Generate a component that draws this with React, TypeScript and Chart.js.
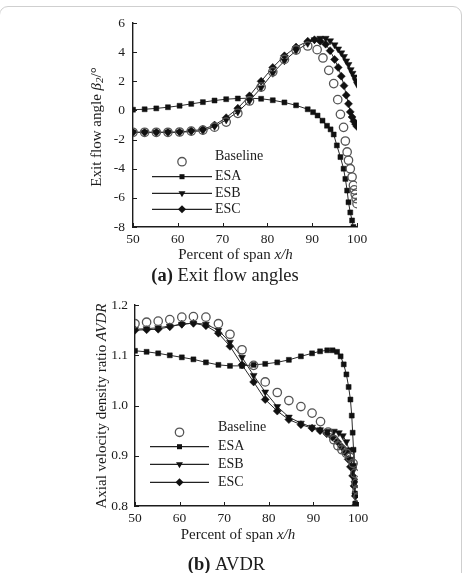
import React, { useEffect, useRef } from 'react';
import { Chart, registerables } from 'chart.js';
Chart.register(...registerables);

const FONT = "'Liberation Serif', 'Times New Roman', serif";
const INK = '#1c1c1c';

// ---------- (a) Exit flow angles ----------
const angleXTicks = [50, 60, 70, 80, 90, 100];
const angleYTicks = [-8, -6, -4, -2, 0, 2, 4, 6];

const angleBaselineX = [50, 52.6, 55.2, 57.8, 60.4, 63, 65.6, 68.2, 70.8, 73.4, 76, 78.6, 81.2, 83.8, 86.4, 89, 91.1, 92.4, 93.7, 94.8, 95.7, 96.3, 97.0, 97.4, 97.8, 98.1, 98.5, 98.9, 99.2, 99.4, 99.6, 99.8, 100];
const angleBaselineY = [-1.5, -1.5, -1.5, -1.5, -1.48, -1.42, -1.35, -1.15, -0.8, -0.2, 0.65, 1.6, 2.65, 3.5, 4.15, 4.42, 4.17, 3.6, 2.75, 1.84, 0.74, -0.27, -1.16, -2.1, -2.85, -3.42, -4.0, -4.57, -5.14, -5.45, -5.75, -6.05, -6.4];

const angleEsaX = [50, 52.6, 55.2, 57.8, 60.4, 63, 65.6, 68.2, 70.8, 73.4, 76, 78.6, 81.2, 83.8, 86.4, 89, 90.2, 91.2, 92.3, 93.3, 94.1, 94.8, 95.5, 96.3, 97.0, 97.4, 97.8, 98.1, 98.5, 98.9, 99.2];
const angleEsaY = [0.05, 0.08, 0.14, 0.22, 0.32, 0.45, 0.57, 0.68, 0.77, 0.82, 0.84, 0.8, 0.7, 0.55, 0.35, 0.08, -0.12, -0.35, -0.7, -1.05, -1.3, -1.65, -2.4, -3.2, -4.0, -4.7, -5.5, -6.3, -7.0, -7.55, -8.0];

const angleEsbX = [50, 52.6, 55.2, 57.8, 60.4, 63, 65.6, 68.2, 70.8, 73.4, 76, 78.6, 81.2, 83.8, 86.4, 89, 90.5, 91.8, 93, 94, 95, 95.8, 96.5, 97.1, 97.6, 98.1, 98.6, 99.0, 99.4, 99.7, 100];
const angleEsbY = [-1.5, -1.5, -1.5, -1.5, -1.5, -1.45, -1.4, -1.1, -0.65, -0.1, 0.65, 1.55, 2.55, 3.4, 4.1, 4.6, 4.85, 4.95, 4.95, 4.78, 4.5, 4.22, 3.95, 3.7, 3.4, 3.15, 2.8, 2.55, 2.3, 2.05, 1.8];

const angleEscX = [50, 52.6, 55.2, 57.8, 60.4, 63, 65.6, 68.2, 70.8, 73.4, 76, 78.6, 81.2, 83.8, 86.4, 89, 90.5, 91.8, 93, 94, 95, 95.8, 96.5, 97.1, 97.6, 98.1, 98.5, 98.9, 99.3, 99.7, 100];
const angleEscY = [-1.5, -1.5, -1.5, -1.5, -1.48, -1.4, -1.3, -1.0, -0.5, 0.15, 1.0, 2.0, 2.95, 3.75, 4.35, 4.75, 4.85, 4.75, 4.55, 4.1, 3.5, 2.95, 2.35, 1.7, 1.05, 0.45, -0.1, -0.45, -0.75, -0.95, -1.1];

// ---------- (b) AVDR ----------
const avdrXTicks = [50, 60, 70, 80, 90, 100];
const avdrYTicks = [0.8, 0.9, 1.0, 1.1, 1.2];

const avdrBaselineX = [50, 52.6, 55.2, 57.8, 60.5, 63.1, 65.9, 68.7, 71.3, 74, 76.6, 79.2, 81.9, 84.5, 87.2, 89.7, 91.6, 93.3, 94.6, 95.5, 96.4, 97.4, 98.2, 98.9, 99.3, 99.6, 99.8, 100];
const avdrBaselineY = [1.163, 1.166, 1.168, 1.171, 1.176, 1.177, 1.176, 1.163, 1.142, 1.111, 1.08, 1.047, 1.026, 1.01, 0.998, 0.985, 0.968, 0.947, 0.932, 0.92, 0.912, 0.905, 0.897, 0.885, 0.865, 0.845, 0.832, 0.818];

const avdrEsaX = [50, 52.6, 55.2, 57.8, 60.5, 63.1, 65.9, 68.7, 71.3, 74, 76.6, 79.2, 81.9, 84.5, 87.2, 89.7, 91.5, 93.1, 94.3, 95.3, 96.1, 96.8, 97.4, 97.9, 98.3, 98.6, 98.8, 99.0, 99.1, 99.2, 99.3, 99.4];
const avdrEsaY = [1.109, 1.107, 1.104, 1.1, 1.096, 1.092, 1.086, 1.081, 1.079, 1.079, 1.081, 1.083, 1.086, 1.091, 1.098, 1.104, 1.108, 1.11, 1.11, 1.107, 1.098, 1.082, 1.062, 1.037, 1.012, 0.98, 0.946, 0.912, 0.88, 0.85, 0.825, 0.805];

const avdrEsbX = [50, 52.6, 55.2, 57.8, 60.5, 63.1, 65.9, 68.7, 71.3, 74, 76.6, 79.2, 81.9, 84.5, 87.2, 89.7, 91.5, 93.2, 94.6, 95.7, 96.6, 97.4, 98.0, 98.5, 98.9, 99.2, 99.4, 99.6];
const avdrEsbY = [1.152, 1.153, 1.155, 1.158, 1.162, 1.164, 1.162, 1.15, 1.126, 1.096, 1.06, 1.027, 0.998, 0.977, 0.965, 0.957, 0.952, 0.949, 0.949, 0.946, 0.94, 0.928, 0.912, 0.893, 0.87, 0.845, 0.822, 0.803];

const avdrEscX = [50, 52.6, 55.2, 57.8, 60.5, 63.1, 65.9, 68.7, 71.3, 74, 76.6, 79.2, 81.9, 84.5, 87.2, 89.7, 91.5, 93.0, 94.3, 95.4, 96.3, 97.1, 97.8, 98.3, 98.8, 99.1, 99.4, 99.6];
const avdrEscY = [1.15, 1.151, 1.152, 1.157, 1.162, 1.164, 1.159, 1.144, 1.118, 1.081, 1.047, 1.012, 0.989, 0.972, 0.962, 0.955, 0.95, 0.944, 0.937, 0.928, 0.918, 0.907, 0.893, 0.878, 0.86, 0.84, 0.82, 0.803];

const seriesNames = ['Baseline', 'ESA', 'ESB', 'ESC'];

type Seg = { t: string; f: string; dy?: number };

function drawRich(ctx: CanvasRenderingContext2D, segs: Seg[], cx: number, cy: number) {
  let total = 0;
  for (const s of segs) { ctx.font = s.f; total += ctx.measureText(s.t).width; }
  let x = cx - total / 2;
  ctx.textBaseline = 'middle';
  ctx.textAlign = 'left';
  for (const s of segs) {
    ctx.font = s.f;
    ctx.fillText(s.t, x, cy + (s.dy || 0));
    x += ctx.measureText(s.t).width;
  }
}

function drawMarker(ctx: CanvasRenderingContext2D, kind: string, x: number, y: number) {
  ctx.save();
  ctx.fillStyle = '#111';
  ctx.strokeStyle = '#111';
  ctx.lineWidth = 1;
  ctx.beginPath();
  if (kind === 'circle') {
    ctx.strokeStyle = '#555';
    ctx.lineWidth = 1.3;
    ctx.arc(x, y, 4.2, 0, Math.PI * 2);
    ctx.stroke();
  } else if (kind === 'rect') {
    const s = 2.5;
    ctx.rect(x - s, y - s, 2 * s, 2 * s);
    ctx.fill();
  } else if (kind === 'tri') {
    const r = 4;
    ctx.moveTo(x, y + r);
    ctx.lineTo(x - r * 0.866, y - r / 2);
    ctx.lineTo(x + r * 0.866, y - r / 2);
    ctx.closePath();
    ctx.fill();
  } else {
    const r = 4;
    ctx.moveTo(x, y - r);
    ctx.lineTo(x + r, y);
    ctx.lineTo(x, y + r);
    ctx.lineTo(x - r, y);
    ctx.closePath();
    ctx.fill();
  }
  ctx.restore();
}

type Decor = {
  xTicks: number[];
  yTicks: number[];
  legend: { x1: number; x2: number; tx: number; rows: number[]; baseTextDy: number };
  xTitle: { x: number; y: number };
  yTitle: { x: number; y: number; segs: Seg[] };
  caption: { x: number; y: number; segs: Seg[] };
};

function makePlugin(d: Decor) {
  return {
    id: 'decor',
    afterDraw(chart: any) {
      const { ctx, chartArea, scales } = chart;
      const xs = scales.x, ys = scales.y;
      ctx.save();
      ctx.strokeStyle = INK;
      ctx.lineWidth = 1;
      // inward ticks
      for (const v of d.xTicks) {
        const px = Math.round(xs.getPixelForValue(v)) + 0.5;
        ctx.beginPath();
        ctx.moveTo(px, chartArea.bottom);
        ctx.lineTo(px, chartArea.bottom - 4);
        ctx.stroke();
      }
      for (const v of d.yTicks) {
        const py = Math.round(ys.getPixelForValue(v)) + 0.5;
        ctx.beginPath();
        ctx.moveTo(chartArea.left, py);
        ctx.lineTo(chartArea.left + 4, py);
        ctx.stroke();
      }
      // legend
      const kinds = ['circle', 'rect', 'tri', 'dia'];
      seriesNames.forEach((name, i) => {
        const y = d.legend.rows[i];
        const mx = (d.legend.x1 + d.legend.x2) / 2;
        if (i > 0) {
          ctx.strokeStyle = '#222';
          ctx.lineWidth = 1.2;
          ctx.beginPath();
          ctx.moveTo(d.legend.x1, y);
          ctx.lineTo(d.legend.x2, y);
          ctx.stroke();
        }
        drawMarker(ctx, kinds[i], mx, y);
        ctx.fillStyle = INK;
        ctx.font = `14px ${FONT}`;
        ctx.textAlign = 'left';
        ctx.textBaseline = 'middle';
        ctx.fillText(name, d.legend.tx, y + (i === 0 ? d.legend.baseTextDy : 0));
      });
      // x title
      ctx.fillStyle = INK;
      drawRich(ctx, [
        { t: 'Percent of span ', f: `15px ${FONT}` },
        { t: 'x/h', f: `italic 15px ${FONT}` },
      ], d.xTitle.x, d.xTitle.y);
      // y title
      ctx.save();
      ctx.translate(d.yTitle.x, d.yTitle.y);
      ctx.rotate(-Math.PI / 2);
      drawRich(ctx, d.yTitle.segs, 0, 0);
      ctx.restore();
      // caption
      drawRich(ctx, d.caption.segs, d.caption.x, d.caption.y);
      ctx.restore();
    },
  };
}

function pts(xs: number[], ys: number[]) {
  return xs.map((x, i) => ({ x, y: ys[i] }));
}

function buildDatasets(bx: number[], by: number[], ax: number[], ay: number[], sx: number[], sy: number[], cx: number[], cy: number[]) {
  const lineCommon = { showLine: true, borderColor: '#2a2a2a', borderWidth: 1, pointBackgroundColor: '#111', pointBorderColor: '#111', pointBorderWidth: 0.5 };
  return [
    { label: 'Baseline', data: pts(bx, by), showLine: false, pointStyle: 'circle', pointRadius: 4.2, pointBorderColor: '#555', pointBackgroundColor: 'rgba(0,0,0,0)', pointBorderWidth: 1.3 },
    { label: 'ESA', data: pts(ax, ay), ...lineCommon, pointStyle: 'rect', pointRadius: 3.5 },
    { label: 'ESB', data: pts(sx, sy), ...lineCommon, pointStyle: 'triangle', pointRotation: 180, pointRadius: 4 },
    { label: 'ESC', data: pts(cx, cy), ...lineCommon, pointStyle: 'rectRot', pointRadius: 4 },
  ];
}

function ChartCanvas(props: { width: number; height: number; config: any; top: number }) {
  const ref = useRef<HTMLCanvasElement | null>(null);
  useEffect(() => {
    if (!ref.current) return;
    const ch = new Chart(ref.current, props.config);
    return () => ch.destroy();
  }, []);
  return (
    <canvas
      ref={ref}
      width={props.width}
      height={props.height}
      style={{ position: 'absolute', left: 0, top: props.top, width: props.width, height: props.height }}
    />
  );
}

function makeConfig(opts: {
  datasets: any[]; xMin: number; xMax: number; yMin: number; yMax: number; yStep: number;
  yFmt: (v: number) => string; pad: { left: number; right: number; top: number; bottom: number };
  yPad: number; decor: Decor;
}) {
  const tickFont = { family: FONT, size: 13.5 };
  return {
    type: 'scatter',
    data: { datasets: opts.datasets },
    options: {
      responsive: false,
      animation: false,
      devicePixelRatio: 1,
      layout: { padding: opts.pad },
      plugins: { legend: { display: false }, tooltip: { enabled: false }, title: { display: false } },
      scales: {
        x: {
          type: 'linear', min: opts.xMin, max: opts.xMax,
          grid: { display: true, drawOnChartArea: false, drawTicks: false },
          border: { display: true, color: INK, width: 1.4 },
          ticks: { stepSize: 10, color: INK, font: tickFont, padding: 4, maxRotation: 0 },
          afterFit: (s: any) => { s.height = 30; },
        },
        y: {
          type: 'linear', min: opts.yMin, max: opts.yMax,
          grid: { display: true, drawOnChartArea: false, drawTicks: false },
          border: { display: true, color: INK, width: 1.4 },
          ticks: { stepSize: opts.yStep, color: INK, font: tickFont, padding: opts.yPad, callback: (v: number) => opts.yFmt(v) },
          afterFit: (s: any) => { s.width = 50; },
        },
      },
    },
    plugins: [makePlugin(opts.decor)],
  };
}

export default function App() {
  const topConfig = makeConfig({
    datasets: buildDatasets(angleBaselineX, angleBaselineY, angleEsaX, angleEsaY, angleEsbX, angleEsbY, angleEscX, angleEscY),
    xMin: 50, xMax: 100, yMin: -8, yMax: 6, yStep: 2,
    yFmt: (v) => String(Math.round(v)),
    pad: { left: 83, right: 106, top: 23, bottom: 33 },
    yPad: 8,
    decor: {
      xTicks: angleXTicks,
      yTicks: angleYTicks,
      legend: { x1: 152, x2: 212, tx: 215, rows: [161.7, 176.7, 193.3, 209.3], baseTextDy: -5 },
      xTitle: { x: 235.5, y: 255 },
      yTitle: {
        x: 97, y: 127, segs: [
          { t: 'Exit flow angle ', f: `15px ${FONT}` },
          { t: 'β', f: `italic 15px ${FONT}` },
          { t: '2', f: `italic 11px ${FONT}`, dy: 3 },
          { t: '/°', f: `15px ${FONT}` },
        ],
      },
      caption: {
        x: 225, y: 276, segs: [
          { t: '(a)', f: `bold 18.5px ${FONT}` },
          { t: ' Exit flow angles', f: `18.5px ${FONT}` },
        ],
      },
    },
  });

  const bottomConfig = makeConfig({
    datasets: buildDatasets(avdrBaselineX, avdrBaselineY, avdrEsaX, avdrEsaY, avdrEsbX, avdrEsbY, avdrEscX, avdrEscY),
    xMin: 50, xMax: 100, yMin: 0.8, yMax: 1.2, yStep: 0.1,
    yFmt: (v) => v.toFixed(1),
    pad: { left: 85, right: 105, top: 13, bottom: 37 },
    yPad: 7,
    decor: {
      xTicks: avdrXTicks,
      yTicks: avdrYTicks,
      legend: { x1: 150, x2: 209, tx: 218, rows: [142.3, 156.7, 174.3, 192.3], baseTextDy: -4.6 },
      xTitle: { x: 238, y: 245 },
      yTitle: {
        x: 102, y: 116, segs: [
          { t: 'Axial velocity density ratio ', f: `15px ${FONT}` },
          { t: 'AVDR', f: `italic 15px ${FONT}` },
        ],
      },
      caption: {
        x: 226.5, y: 275, segs: [
          { t: '(b)', f: `bold 18.5px ${FONT}` },
          { t: ' AVDR', f: `18.5px ${FONT}` },
        ],
      },
    },
  });

  return (
    <div style={{ position: 'absolute', left: 0, top: 0, width: 463, height: 573, overflow: 'hidden', background: '#fff' }}>
      <div style={{ position: 'absolute', left: -1, top: 6, width: 463, height: 620, boxSizing: 'border-box', border: '1px solid #cfcfcf', borderRadius: 9 }} />
      <ChartCanvas width={463} height={290} top={0} config={topConfig} />
      <ChartCanvas width={463} height={283} top={290} config={bottomConfig} />
    </div>
  );
}
